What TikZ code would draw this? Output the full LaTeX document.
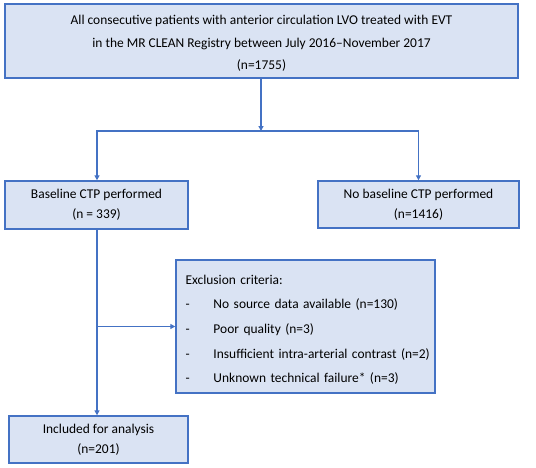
\documentclass[tikz,border=0pt]{standalone}
\usepackage{fontspec}
\setmainfont{Carlito}
\usetikzlibrary{arrows.meta}
\definecolor{boxfill}{HTML}{DAE3F3}
\definecolor{boxline}{HTML}{4472C4}
\tikzset{
  box/.style={draw=boxline, fill=boxfill, line width=1.4pt, inner sep=0pt, align=center},
  conn/.style={draw=boxline, line width=1.3pt},
  arr/.style={conn, -{Triangle[length=5pt,width=5pt]}}
}
\newcommand{\exitem}{\hspace*{5bp}\makebox[28bp][l]{-}}
\begin{document}
\begin{tikzpicture}[x=1bp,y=-1bp]
\useasboundingbox (0,0) rectangle (536,468);
\node[box, minimum width=513bp, minimum height=74bp, font=\fontsize{13.5}{22.5}\selectfont] (top) at (261.5,41)
  {\rule{0pt}{14bp}All consecutive patients with anterior circulation LVO treated with EVT\\in the MR CLEAN Registry between July 2016--November 2017\\(n=1755)};
\node[box, minimum width=183bp, minimum height=48bp, font=\fontsize{13.5}{20}\selectfont] (left) at (96.5,205)
  {Baseline CTP performed\\(n = 339)};
\node[box, minimum width=201bp, minimum height=47bp, font=\fontsize{13.5}{20}\selectfont] (right) at (418.5,204.5)
  {No baseline CTP performed\\(n=1416)};
\node[box, minimum width=259bp, minimum height=133bp, align=left, text width=250bp, font=\fontsize{13.5}{24.7}\selectfont] (excl) at (305.5,326.5)
  {\rule{0pt}{16bp}\hspace*{5bp}Exclusion criteria:\\
   \exitem No source data available (n=130)\\
   \exitem Poor quality (n=3)\\
   \exitem Insufficient intra-arterial contrast (n=2)\\
   \exitem Unknown technical failure* (n=3)};
\node[box, minimum width=179bp, minimum height=47bp, font=\fontsize{13.5}{20}\selectfont] (incl) at (98.5,439.5)
  {Included for analysis\\(n=201)};
\coordinate (br) at (261,131);
\coordinate (lx) at (97,0);
\draw[arr] (top.south -| br) -- (br);
\draw[arr] (br) -| (lx |- left.north);
\draw[arr] (br) -| (right.north);
\draw[arr] (lx |- left.south) -- (lx |- incl.north);
\draw[arr] (lx |- excl.west) -- (excl.west);
\end{tikzpicture}
\end{document}
